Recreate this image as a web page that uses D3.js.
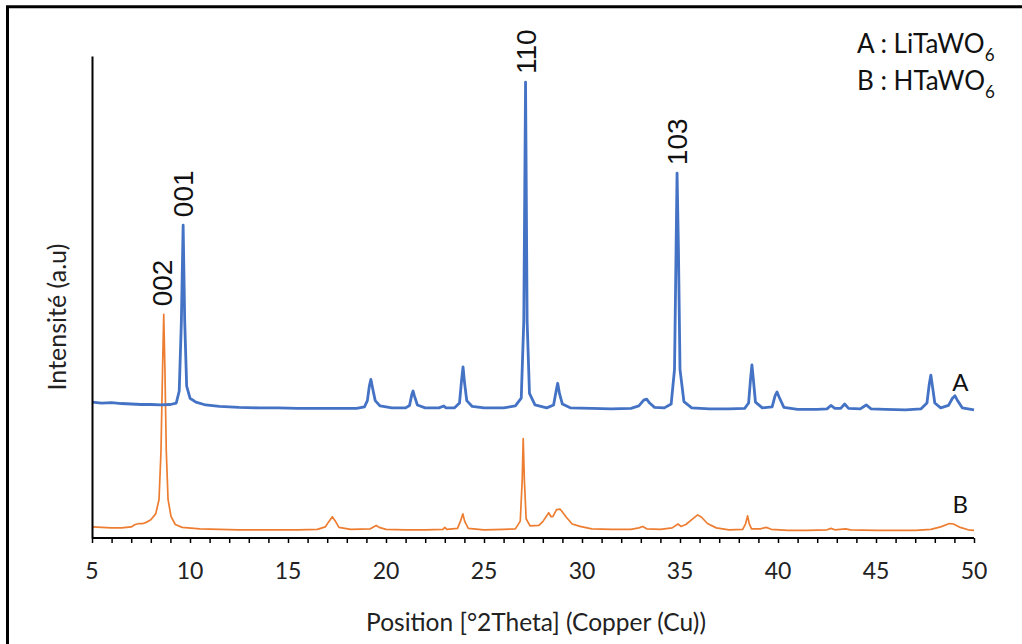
<!DOCTYPE html>
<html><head><meta charset="utf-8">
<script src="https://cdn.jsdelivr.net/npm/d3@7"></script>
<style>
html,body{margin:0;padding:0;background:#fff;}
svg{display:block;}
</style></head>
<body>
<svg id="chart" width="1022" height="644"></svg>
<script>
// 2θ positions and intensities (arbitrary units)
const seriesA = [
 [5.0,28.2],[5.5,28.0],[6.0,28.1],[6.5,27.9],[7.0,27.8],[7.5,27.7],[8.0,27.7],[8.5,27.6],[9.0,27.7],[9.3,28.0],
 [9.45,30.5],[9.56,45],[9.65,64.9],[9.73,45],[9.83,31.5],[10.0,29.0],[10.3,28.2],[10.8,27.6],[11.5,27.3],[12.5,27.1],
 [13.5,27.0],[14.5,27.0],[15.5,26.9],[16.5,26.9],[17.5,26.9],[18.5,26.9],[18.9,27.2],[19.05,28.5],[19.15,31.5],[19.23,32.9],
 [19.32,31.0],[19.45,28.5],[19.7,27.4],[20.3,27.0],[21.0,27.0],[21.2,27.5],[21.32,29.8],[21.38,30.5],[21.45,29.5],[21.6,27.6],
 [22.0,27.0],[22.7,27.0],[22.95,27.4],[23.05,27.0],[23.5,27.0],[23.75,28.0],[23.85,32.5],[23.93,35.5],[24.0,32.5],[24.12,28.5],
 [24.4,27.3],[25.0,27.0],[26.0,27.0],[26.6,27.4],[26.9,29.0],[27.03,45],[27.12,94.6],[27.2,45],[27.32,30],[27.6,27.6],
 [28.2,27.0],[28.55,27.6],[28.68,30.5],[28.76,32.1],[28.85,30.0],[29.0,27.8],[29.4,27.0],[30.5,26.9],[31.5,26.8],[32.5,26.9],
 [32.9,27.4],[33.15,28.6],[33.3,28.8],[33.45,28.0],[33.7,27.1],[34.2,27.0],[34.55,27.8],[34.72,35],[34.8,60],[34.85,75.7],
 [34.92,60],[35.0,35],[35.2,28.3],[35.6,27.0],[36.5,26.8],[37.5,26.8],[38.3,26.9],[38.5,28.0],[38.6,33.0],[38.67,35.9],
 [38.74,33.0],[38.85,28.2],[39.2,27.0],[39.7,27.2],[39.85,29.5],[39.95,30.3],[40.05,29.3],[40.3,27.1],[41.0,26.7],[42.0,26.7],
 [42.5,26.8],[42.7,27.5],[42.9,26.9],[43.2,26.9],[43.4,27.8],[43.6,26.9],[44.2,26.8],[44.5,27.6],[44.75,26.8],[45.5,26.7],
 [46.5,26.6],[47.3,26.8],[47.6,28.0],[47.72,32.0],[47.8,33.8],[47.88,31.5],[48.0,28.0],[48.3,27.0],[48.7,27.5],[48.9,29.0],
 [49.03,29.5],[49.15,28.6],[49.4,27.0],[50.0,26.6]
];
const seriesB = [
 [5.0,2.3],[5.5,2.2],[6.0,2.1],[6.5,2.1],[7.0,2.3],[7.2,2.8],[7.4,3.0],[7.6,3.0],[7.8,3.3],[8.0,3.8],
 [8.25,5.0],[8.42,8],[8.52,18],[8.6,35],[8.66,46.4],[8.72,35],[8.79,18],[8.88,8],[9.03,4.5],[9.25,2.8],
 [9.6,2.2],[10.5,1.9],[11.5,1.8],[12.5,1.7],[13.5,1.7],[14.5,1.7],[15.5,1.7],[16.5,1.8],[16.9,2.3],[17.1,3.5],
 [17.26,4.4],[17.4,3.6],[17.6,2.2],[18.2,1.8],[19.2,1.9],[19.5,2.6],[19.65,2.2],[20.0,1.8],[21.0,1.7],[22.0,1.7],
 [22.9,1.8],[23.0,2.2],[23.1,1.8],[23.65,2.0],[23.8,3.5],[23.92,5.0],[24.02,3.4],[24.2,2.0],[25.0,1.7],[26.0,1.8],
 [26.6,1.9],[26.85,3.5],[26.95,12],[27.0,20.6],[27.06,12],[27.15,4],[27.35,2.5],[27.8,2.6],[28.0,3.4],[28.2,4.6],
 [28.3,5.25],[28.42,4.4],[28.52,4.5],[28.7,5.9],[28.88,6.0],[29.0,5.4],[29.2,4.3],[29.5,2.9],[29.9,2.4],[30.5,1.9],
 [31.5,1.8],[32.5,1.8],[32.9,2.1],[33.1,2.4],[33.3,1.9],[34.0,1.8],[34.6,2.1],[34.9,2.9],[35.05,2.4],[35.3,2.8],
 [35.6,3.8],[35.9,4.8],[36.1,4.3],[36.4,3.0],[36.85,2.1],[37.5,1.7],[38.2,1.8],[38.35,3.0],[38.45,4.6],[38.53,3.0],
 [38.65,1.9],[39.1,1.9],[39.4,2.2],[39.65,1.8],[40.5,1.6],[41.5,1.6],[42.5,1.7],[42.7,2.0],[42.9,1.7],[43.45,1.9],
 [43.7,1.7],[45.0,1.6],[46.0,1.6],[47.0,1.6],[47.8,1.8],[48.3,2.3],[48.75,3.0],[48.95,2.9],[49.3,2.2],[49.7,1.7],
 [50.0,1.6]
];
const peakLabels = ["002","001","110","103"];
const peakX = [8.58, 9.65, 27.12, 34.85];
const peakY = [46.4, 64.9, 94.6, 75.7];
const xTicks = [5,10,15,20,25,30,35,40,45,50];
const seriesNames = ["A","B"];
const legendLines = [["A : LiTaWO","6"],["B : HTaWO","6"]];
const xTitle = "Position [°2Theta] (Copper (Cu))";
const yTitle = "Intensité (a.u)";

const svg = d3.select("#chart");
const W = 1022, H = 644;
const x = d3.scaleLinear().domain([5,50]).range([92,974]);
const y = d3.scaleLinear().domain([0,100]).range([538,56]);
const font = "Lato, 'Open Sans', sans-serif";

// frame (top & left visible edges)
svg.append("line").attr("x1",7.5).attr("x2",7.5).attr("y1",6.5).attr("y2",H).attr("stroke","#000").attr("stroke-width",3);
svg.append("line").attr("x1",6).attr("x2",W).attr("y1",6.8).attr("y2",6.8).attr("stroke","#000").attr("stroke-width",3);

// series lines
const line = d3.line().x(d=>x(d[0])).y(d=>y(d[1]));
svg.append("path").datum(seriesB).attr("d",line).attr("fill","none")
  .attr("stroke","#ED7D31").attr("stroke-width",1.7).attr("stroke-linejoin","round");
svg.append("path").datum(seriesA).attr("d",line).attr("fill","none")
  .attr("stroke","#4472C4").attr("stroke-width",2.8).attr("stroke-linejoin","round");

// x axis with minor ticks every 1
const xAxis = d3.axisBottom(x).tickValues(d3.range(5,51,1)).tickSize(5).tickFormat("");
const gx = svg.append("g").attr("transform","translate(0,538)").call(xAxis);
gx.select(".domain").attr("stroke","#000").attr("stroke-width",2).attr("d","M92,0H974");
gx.selectAll(".tick line").attr("stroke","#000").attr("stroke-width",1.5);
svg.append("g").selectAll("text").data(xTicks).join("text")
  .attr("x",d=>x(d)).attr("y",571).attr("dy","0.35em").attr("text-anchor","middle")
  .attr("font-family",font).attr("font-size",23).attr("fill","#222").text(d=>d);

// y axis line (no ticks)
const gy = svg.append("g").attr("transform","translate(92,0)").call(d3.axisLeft(y).tickValues([]).tickSizeOuter(0));
gy.select(".domain").attr("stroke","#000").attr("stroke-width",2);

// axis titles
svg.append("text").attr("x",536).attr("y",622).attr("dy","0.35em").attr("text-anchor","middle")
  .attr("font-family",font).attr("font-size",24.5).attr("fill","#222").text(xTitle);
svg.append("text").attr("transform","translate(57,317) rotate(-90)").attr("dy","0.35em").attr("text-anchor","middle")
  .attr("font-family",font).attr("font-size",25).attr("fill","#222").text(yTitle);

// peak labels (rotated)
svg.append("g").selectAll("text").data(peakLabels).join("text")
  .attr("transform",(d,i)=>`translate(${x(peakX[i])},${y(peakY[i])-8}) rotate(-90)`)
  .attr("dy","0.36em").attr("text-anchor","start")
  .attr("font-family","'Liberation Sans', Arial, sans-serif").attr("font-size",28).attr("fill","#111")
  .text(d=>d);

// series name labels
const nameX = [49.3, 49.3];
const nameY = [32.2, 6.9];
svg.append("g").selectAll("text").data(seriesNames).join("text")
  .attr("x",(d,i)=>x(nameX[i])).attr("y",(d,i)=>y(nameY[i])).attr("dy","0.35em").attr("text-anchor","middle")
  .attr("font-family",font).attr("font-size",24).attr("fill","#111").text(d=>d);

// legend text
const lg = svg.append("g").selectAll("text").data(legendLines).join("text")
  .attr("x",857).attr("y",(d,i)=>53+i*37)
  .attr("font-family",font).attr("font-size",26).attr("fill","#111");
lg.append("tspan").text(d=>d[0]);
lg.append("tspan").attr("dy",8).attr("font-size",17).text(d=>d[1]);
</script>
</body></html>
